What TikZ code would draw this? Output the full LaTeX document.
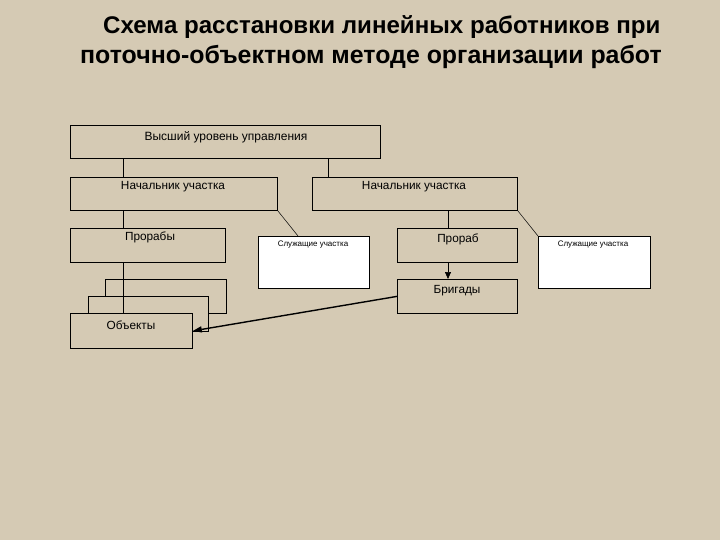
\documentclass[tikz,border=0pt]{standalone}
\usepackage{fontspec}
\setmainfont{Liberation Sans}
\usetikzlibrary{arrows.meta}
\definecolor{bg}{HTML}{D5CAB4}
\begin{document}
\begin{tikzpicture}[x=1pt,y=-1pt,
  box/.style={draw=black, line width=0.8pt, fill=bg, anchor=north west, inner sep=0pt},
  wbox/.style={draw=black, line width=0.8pt, fill=white, anchor=north west, inner sep=0pt},
  lbl/.style={font=\fontsize{11.8}{13}\selectfont, inner sep=0pt, text=black},
  slbl/.style={font=\fontsize{8}{9}\selectfont, inner sep=0pt, text=black},
  ttl/.style={inner sep=0pt, anchor=west, text=black},
  conn/.style={draw=black, line width=0.7pt}
]
\fill[bg] (0,0) rectangle (720,540);
\useasboundingbox (0,0) rectangle (720,540);

% title
\node[ttl, font=\fontsize{24.1}{28}\selectfont\bfseries] (t1) at (103,27) {Схема расстановки линейных работников при};
\node[ttl, font=\fontsize{24.9}{28}\selectfont\bfseries] (t2) at (80,57) {поточно-объектном методе организации работ};

% boxes
\node[box, minimum width=310, minimum height=33] (top) at (70,125) {};
\node[box, minimum width=207, minimum height=33] (nachL) at (70,177) {};
\node[box, minimum width=205, minimum height=33] (nachR) at (312,177) {};
\node[box, minimum width=155, minimum height=34] (prL) at (70,228) {};
\node[wbox, minimum width=111, minimum height=52] (slL) at (258,236) {};
\node[box, minimum width=120, minimum height=34] (prR) at (397,228) {};
\node[wbox, minimum width=112, minimum height=52] (slR) at (538,236) {};
\node[box, minimum width=120, minimum height=34] (brig) at (397,279) {};
\node[box, minimum width=121, minimum height=34] (ob3) at (105,279) {};
\node[box, minimum width=120, minimum height=35] (ob2) at (88,296) {};
\node[box, minimum width=122, minimum height=35] (ob1) at (70,313) {};

% labels
\node[lbl, font=\fontsize{12}{13}\selectfont] (l1) at (226,137) {Высший уровень управления};
\node[lbl] (l2) at (173,187) {Начальник участка};
\node[lbl] (l3) at (414,187) {Начальник участка};
\node[lbl] (l4) at (150,237) {Прорабы};
\node[lbl] (l5) at (458,239) {Прораб};
\node[lbl] (l6) at (457,291) {Бригады};
\node[lbl] (l7) at (131,325) {Объекты};
\node[slbl] (l8) at (313,245) {Служащие участка};
\node[slbl] (l9) at (593,245) {Служащие участка};

% connector columns
\coordinate (c1) at (123,0);
\coordinate (c2) at (328,0);
\coordinate (c3) at (448,0);
\coordinate (d1) at (298,236);

\draw[conn] (top.south -| c1) -- (nachL.north -| c1);
\draw[conn] (top.south -| c2) -- (nachR.north -| c2);
\draw[conn] (nachL.south -| c1) -- (prL.north -| c1);
\draw[conn] (prL.south -| c1) -- (ob1.north -| c1);
\draw[conn] (nachR.south -| c3) -- (prR.north -| c3);
\draw[conn, -{Triangle[length=7pt,width=6pt]}] (prR.south -| c3) -- (brig.north -| c3);
\draw[conn, line width=0.5pt] (nachL.south east) -- (d1);
\draw[conn, line width=0.5pt] (nachR.south east) -- (slR.north west);
\draw[conn, line width=1.4pt, -{Triangle[length=9pt,width=6pt]}] (brig.west) -- (ob1.east);
\end{tikzpicture}
\end{document}
